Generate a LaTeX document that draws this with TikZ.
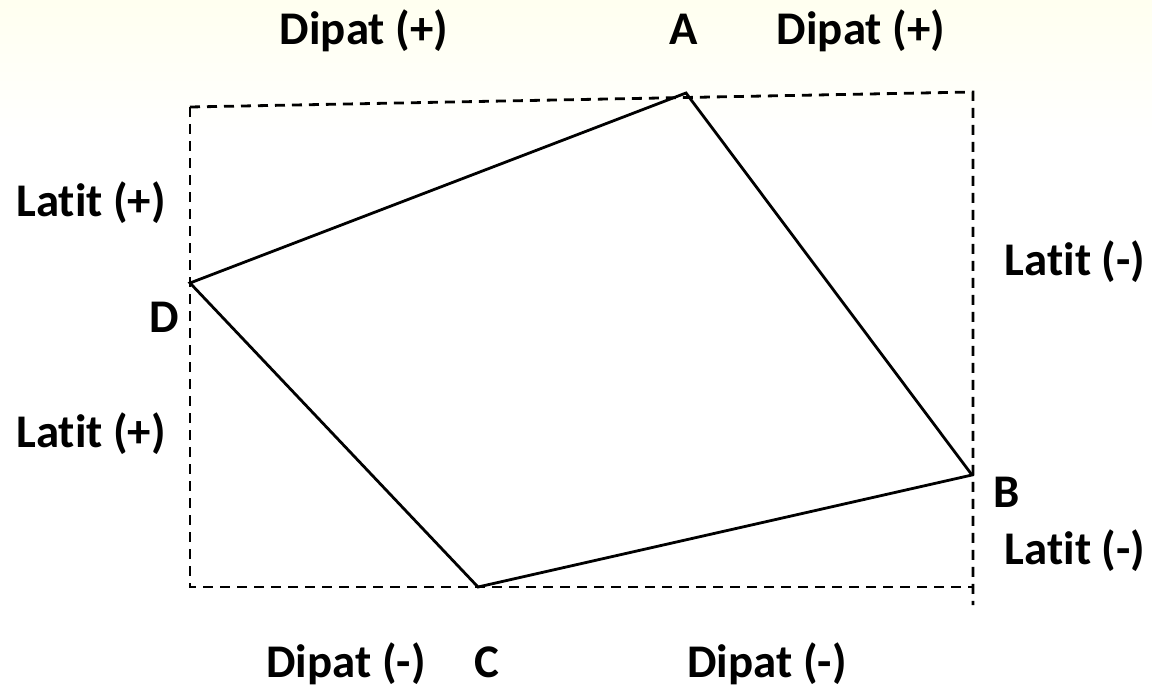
\documentclass[tikz,border=0pt]{standalone}
\usepackage{fontspec}
\setmainfont{Carlito}[Ligatures={NoCommon}]
\begin{document}
\begin{tikzpicture}[x=1bp,y=-1bp,
  lbl/.style={font=\bfseries\fontsize{47}{50}\selectfont, inner sep=0pt, anchor=base},
  dashline/.style={dash pattern=on 10bp off 7bp, line width=2.8bp},
  edge/.style={line width=2.8bp, line join=miter}]
\useasboundingbox (0,0) rectangle (1152,687);
\fill[white] (0,0) rectangle (1152,687);
\shade[top color=yellow!6, bottom color=white] (0,0) rectangle (1152,140);
% corner coordinates
\coordinate (A) at (686,93);
\coordinate (B) at (972,475);
\coordinate (C) at (478,587);
\coordinate (D) at (190,283);
\coordinate (TL) at (190,107);
\coordinate (TR) at (973,92);
\coordinate (BR) at (973,605);
\coordinate (BL) at (190,587);
\coordinate (BRb) at (973,587);
% dashed frame
\draw[dashline] (TL) -- (TR) -- (BR);
\draw[dashline] (TL) -- (BL) -- (BRb);
% quadrilateral
\draw[edge] (A) -- (B) -- (C) -- (D) -- cycle;
% labels
\node[lbl] (dp1) at (364,45) {Dipat (+)};
\node[lbl] (la) at (684,45) {A};
\node[lbl] (dp2) at (861,45) {Dipat (+)};
\node[lbl] (lp1) at (91,217) {Latit (+)};
\node[lbl] (ld) at (164,332) {D};
\node[lbl] (lm1) at (1075,275) {Latit (-)};
\node[lbl] (lp2) at (91,447) {Latit (+)};
\node[lbl] (lb) at (1007,507) {B};
\node[lbl] (lm2) at (1075,564) {Latit (-)};
\node[lbl] (dm1) at (346,677) {Dipat (-)};
\node[lbl] (lc) at (487,677) {C};
\node[lbl] (dm2) at (767,677) {Dipat (-)};
\end{tikzpicture}
\end{document}
